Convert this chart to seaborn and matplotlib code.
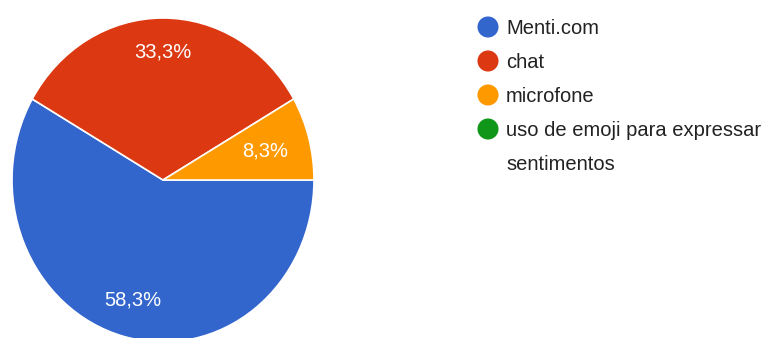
import matplotlib
matplotlib.use("Agg")
import matplotlib.pyplot as plt
import seaborn as sns
import numpy as np

sns.set_style("white")
plt.rcParams['font.family'] = ['Liberation Sans', 'DejaVu Sans']

# Data
categories = ["Menti.com", "chat", "microfone", "uso de emoji para expressar\nsentimentos"]
counts = [7, 4, 1, 0]
colors = sns.color_palette(["#3366cc", "#dc3912", "#ff9900", "#109618"])

W, H = 765, 338
fig = plt.figure(figsize=(W / 100, H / 100), dpi=100)
fig.patch.set_facecolor("white")

# Pie axes: center (163,180) px, horizontal radius 151 px, vertical 162 px
cx, cy, rx, ry = 163, 180, 151, 162
ax = fig.add_axes([(cx - rx) / W, (H - cy - ry) / H, 2 * rx / W, 2 * ry / H])
shown = [(c, col) for c, col in zip(counts, colors) if c > 0]

def fmt(p):
    return f"{p:.1f}%".replace(".", ",")

wedges, texts, autotexts = ax.pie(
    [c for c, _ in shown], colors=[col for _, col in shown],
    startangle=0, counterclock=False, autopct=fmt, pctdistance=0.8,
    wedgeprops=dict(edgecolor="white", linewidth=1.2),
    textprops=dict(color="white", fontsize=14.5), radius=1.0)
# label distances tuned per slice (small slice label sits closer to center)
label_dist = [0.77, 0.79, 0.70]
for w, t, d in zip(wedges, autotexts, label_dist):
    ang = np.deg2rad((w.theta1 + w.theta2) / 2)
    t.set_position((d * np.cos(ang), d * np.sin(ang)))
ax.set_xlim(-1, 1)
ax.set_ylim(-1, 1)
ax.set_aspect("auto")
ax.axis("off")

# Legend drawn in pixel-coordinate overlay
lax = fig.add_axes([0, 0, 1, 1], facecolor="none")
lax.set_xlim(0, W)
lax.set_ylim(H, 0)
lax.axis("off")
row_y = 27
for lab, col in zip(categories, colors):
    lax.scatter([488], [row_y], s=230, color=col, edgecolors="none")
    for k, line in enumerate(lab.split("\n")):
        lax.text(506, row_y + 1 + k * 34, line, fontsize=14.5, color="#222222",
                 va="center", ha="left")
    row_y += 34 * (lab.count("\n") + 1)

fig.savefig("out.png", dpi=100, facecolor="white")
